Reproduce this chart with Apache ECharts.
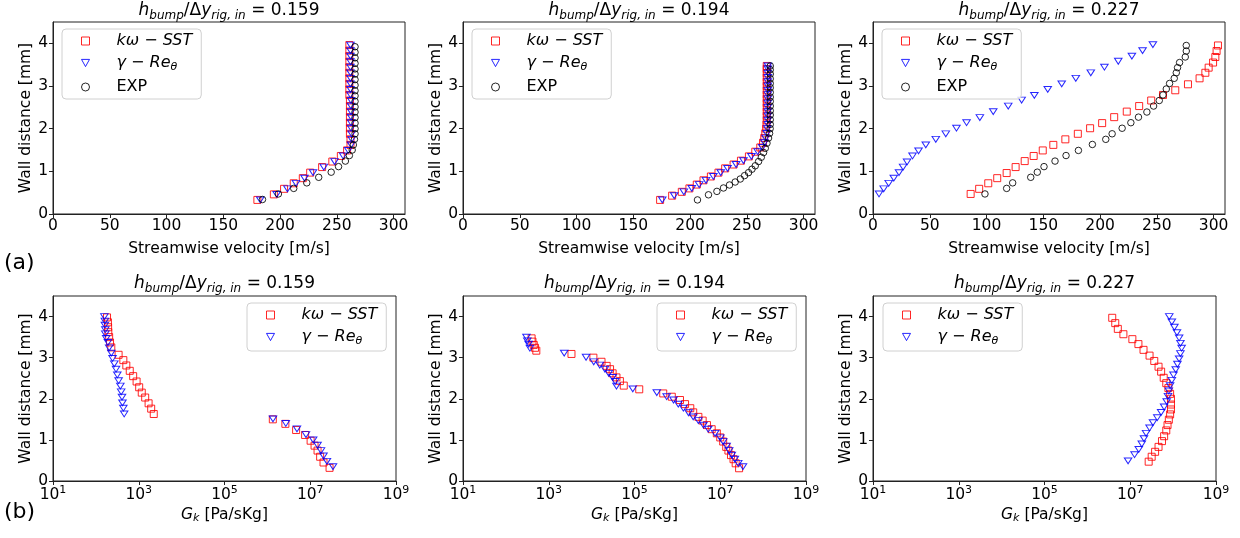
<!DOCTYPE html>
<html>
<head>
<meta charset="utf-8">
<script src="https://cdn.jsdelivr.net/npm/echarts@6/dist/echarts.min.js"></script>
<style>
  html, body { margin: 0; background: #fff; }
  #chart { width: 1240px; height: 538px; }
</style>
</head>
<body>
<div id="chart"></div>
<script>
// tick labels
const velTicks = [0, 50, 100, 150, 200, 250, 300];
const wallTicks = [0, 1, 2, 3, 4];
const gkTicks = [1e1, 1e3, 1e5, 1e7, 1e9];
const ratios = ['0.159', '0.194', '0.227'];

// (a) streamwise velocity [m/s] vs wall distance [mm]
const a1SstD = [0.33,0.46,0.59,0.72,0.84,0.97,1.10,1.23,1.36,1.49,1.62,1.75,1.88,2.01,2.14,2.27,2.40,2.53,2.66,2.79,2.92,3.05,3.18,3.31,3.44,3.57,3.70,3.83,3.96];
const a1SstU = [180,194.5,203.5,212,220,226.5,237,246,253.5,259,262,262,261.5,261.5,261.5,261.5,261.5,261.5,261.5,261,261,261,261,261,261,261,261,261,261];
const a1GreU = [182.5,197,206.5,214,221.5,229,238.5,248,255.5,260,262.5,263,263,262.5,262.5,262.5,262.5,262.5,262.5,262,262,262,262,262,262,262,262,262,262];
const a1ExpD = [0.34,0.47,0.60,0.73,0.86,0.98,1.11,1.24,1.37,1.50,1.62,1.75,1.88,2.00,2.13,2.26,2.39,2.51,2.64,2.77,2.89,3.02,3.15,3.28,3.40,3.53,3.66,3.79,3.92];
const a1ExpU = [184.5,198.5,212,223.5,234,245,251.5,257.5,261,263.5,264.5,265.5,266,266,266,266,266,266,266,266,266,266,266,266,266,266,266,266,266];

const a2SstD = [0.33,0.43,0.52,0.60,0.69,0.79,0.88,0.97,1.07,1.16,1.25,1.35,1.46,1.56,1.67,1.78,1.89,2.00,2.10,2.20,2.30,2.40,2.50,2.60,2.70,2.80,2.90,3.00,3.10,3.20,3.30,3.40,3.47];
const a2SstU = [173.6,184.2,192.7,199.4,205.9,211.8,218.3,225,230.9,238.3,244.8,251.8,257.4,261.8,264.2,265.3,266.2,267,267.3,267.5,267.5,267.5,267.5,267.5,267.5,267.5,267.5,267.5,267.5,267.5,267.5,267.5,267.5];
const a2GreU = [175.5,186,194.5,201.5,208,214,220.5,227,233,240.5,247,254,259.5,263.5,265.5,266.5,267.5,268,268.5,268.5,268.5,268.5,268.5,268.5,268.5,268.5,268.5,268.5,268.5,268.5,268.5,268.5,268.5];
const a2ExpD = [0.33,0.45,0.53,0.61,0.68,0.75,0.82,0.90,0.97,1.05,1.13,1.23,1.33,1.44,1.54,1.66,1.78,1.89,2.00,2.10,2.21,2.32,2.42,2.53,2.64,2.74,2.85,2.96,3.06,3.17,3.28,3.38,3.47];
const a2ExpU = [206.5,216.2,223.6,229.4,234.7,239.7,244.2,248,251.5,254.5,257.4,260.3,262.7,264.7,266.2,267.7,269.1,270,270.5,270.6,270.6,270.6,270.6,270.6,270.6,270.6,270.6,270.6,270.6,270.6,270.6,270.6,270.6];

const a3SstD = [0.47,0.59,0.72,0.84,0.96,1.10,1.24,1.36,1.49,1.62,1.75,1.88,2.01,2.13,2.27,2.40,2.53,2.66,2.79,2.90,3.04,3.18,3.31,3.43,3.55,3.68,3.82,3.95];
const a3SstU = [86,93.5,101.5,109.4,117.7,125.6,133.6,141.5,149.5,158.8,169.4,180.4,191.2,201.8,212.4,223.5,234.4,245,255.4,266.2,277.4,287.6,292.7,295.6,299.5,301.5,302.6,303.8];
const a3GreD = [0.47,0.59,0.72,0.84,0.97,1.10,1.22,1.36,1.48,1.62,1.75,1.88,2.01,2.14,2.26,2.40,2.53,2.67,2.78,2.92,3.05,3.18,3.31,3.44,3.58,3.70,3.83,3.97];
const a3GreU = [5.3,9.4,13.8,18.3,22.9,26.5,30,34.8,40.1,46.5,55.3,64.1,73.5,82.4,94.1,105.9,119.1,130.9,142.1,153.9,166.2,178.6,191.8,203.8,216,228,237.4,246.5];
const a3ExpD = [0.47,0.60,0.73,0.86,0.98,1.11,1.24,1.37,1.49,1.63,1.75,1.88,2.01,2.14,2.27,2.39,2.53,2.66,2.79,2.93,3.06,3.18,3.31,3.43,3.55,3.68,3.82,3.95];
const a3ExpU = [98.6,117.7,123,138.9,144.7,150.6,160.3,170,180.9,193.2,205,210.6,219.4,227.1,233.8,241.2,247.1,252.1,255.4,258.3,261.2,265.3,267.1,268.2,270,275,275.9,275.9];

// (b) Gk [Pa/sKg] vs wall distance [mm]
const b1SstD = [3.98,3.86,3.74,3.62,3.50,3.37,3.25,3.07,2.94,2.81,2.68,2.55,2.42,2.28,2.15,2.03,1.89,1.76,1.63,1.50,1.39,1.24,1.12,0.98,0.86,0.74,0.59,0.45,0.32];
const b1SstG = [182,191,193,195,204,214,229,339,437,513,617,741,891,1023,1175,1413,1698,1950,2239,1.34e6,2.63e6,4.68e6,7.59e6,1.02e7,1.26e7,1.48e7,1.70e7,2.04e7,2.82e7];
const b1GreD = [4.00,3.89,3.79,3.68,3.58,3.47,3.37,3.24,3.11,2.98,2.85,2.72,2.58,2.44,2.31,2.17,2.04,1.90,1.77,1.63,1.51,1.40,1.27,1.13,1.00,0.87,0.74,0.61,0.48,0.35];
const b1GreG = [158,162,162,166,166,174,191,204,229,245,269,295,316,339,372,389,407,417,437,457,1.35e6,2.69e6,4.90e6,7.94e6,1.17e7,1.48e7,1.78e7,2.04e7,2.45e7,3.39e7];

const b2SstD = [3.47,3.39,3.31,3.24,3.17,3.09,3.00,2.90,2.80,2.72,2.62,2.52,2.43,2.32,2.23,2.13,2.05,1.97,1.87,1.77,1.67,1.56,1.47,1.36,1.26,1.16,1.06,0.96,0.83,0.74,0.63,0.53,0.43,0.31];
const b2SstG = [398,417,447,479,513,3388,1.10e4,1.70e4,2.24e4,2.69e4,3.09e4,3.80e4,4.57e4,5.62e4,1.29e5,4.68e5,7.41e5,1.15e6,1.51e6,2.0e6,2.34e6,3.09e6,3.89e6,4.90e6,6.31e6,8.32e6,1.0e7,1.17e7,1.38e7,1.55e7,1.78e7,2.04e7,2.29e7,2.75e7];
const b2GreD = [3.50,3.41,3.33,3.23,3.11,3.01,2.90,2.82,2.72,2.62,2.52,2.42,2.31,2.24,2.15,2.05,1.97,1.87,1.77,1.66,1.56,1.47,1.36,1.26,1.16,1.05,0.96,0.85,0.74,0.63,0.53,0.43,0.35];
const b2GreG = [302,316,339,363,2291,7413,1.12e4,1.55e4,2.04e4,2.51e4,3.09e4,3.55e4,3.80e4,9.12e4,3.31e5,5.62e5,8.13e5,1.05e6,1.38e6,1.82e6,2.34e6,3.09e6,4.07e6,5.25e6,7.59e6,1.0e7,1.17e7,1.41e7,1.62e7,1.86e7,2.19e7,2.63e7,3.39e7];

const b3SstD = [3.97,3.84,3.70,3.57,3.45,3.33,3.19,3.05,2.92,2.78,2.66,2.51,2.38,2.26,2.12,2.00,1.86,1.74,1.62,1.49,1.36,1.23,1.09,0.97,0.83,0.71,0.59,0.47];
const b3SstG = [3.80e6,4.47e6,5.13e6,6.92e6,1.12e7,1.55e7,2.04e7,2.82e7,3.63e7,4.57e7,5.25e7,6.03e7,6.92e7,7.76e7,8.51e7,8.91e7,8.91e7,8.91e7,8.51e7,7.94e7,7.41e7,6.92e7,6.17e7,5.50e7,4.57e7,3.80e7,3.16e7,2.69e7];
const b3GreD = [4.00,3.87,3.74,3.61,3.48,3.35,3.23,3.10,2.97,2.84,2.71,2.58,2.45,2.32,2.19,2.06,1.93,1.80,1.67,1.54,1.42,1.29,1.16,1.03,0.90,0.77,0.64,0.49];
const b3GreG = [8.13e7,9.33e7,1.07e8,1.23e8,1.38e8,1.48e8,1.58e8,1.48e8,1.38e8,1.26e8,1.15e8,1.02e8,9.33e7,8.51e7,7.94e7,7.59e7,7.08e7,6.17e7,5.25e7,4.27e7,3.39e7,2.82e7,2.34e7,2.09e7,1.86e7,1.58e7,1.26e7,8.9e6];

const FONT = 'DejaVu Sans';
const SST = 'kω − SST', GRE = 'γ − Reθ', EXP = 'EXP';
const FRAME = '#222';
const zip = (xs, ys) => xs.map((x, i) => [x, ys[i]]);

const chart = echarts.init(document.getElementById('chart'));

const grids = [
  { left: 53, top: 22, width: 352, height: 192 },
  { left: 463, top: 22, width: 352, height: 192 },
  { left: 873, top: 22, width: 352, height: 192 },
  { left: 53, top: 296, width: 343, height: 185 },
  { left: 463, top: 296, width: 343, height: 185 },
  { left: 873, top: 296, width: 343, height: 185 }
];

const titleRich = {
  n: { fontFamily: FONT, fontSize: 17, fontWeight: 'normal', color: '#000', lineHeight: 22 },
  i: { fontFamily: FONT, fontSize: 17, fontWeight: 'normal', color: '#000', fontStyle: 'italic', lineHeight: 22 },
  s: { fontFamily: FONT, fontSize: 12, fontWeight: 'normal', color: '#000', fontStyle: 'italic', lineHeight: 12, verticalAlign: 'bottom' }
};

const titles = grids.map((g, i) => ({
  text: '{i|h}{s|bump}{n|/Δ}{i|y}{s|rig, in}{n| = ' + ratios[i % 3] + '}',
  left: g.left + g.width / 2,
  top: i < 3 ? 0 : 273,
  textAlign: 'center',
  padding: 0,
  textStyle: { fontWeight: 'normal', rich: titleRich }
}));

const legendRich = {
  ia: { fontFamily: FONT, fontSize: 16, fontStyle: 'italic', color: '#000', lineHeight: 20, padding: [0, 0, 0, 22] },
  na: { fontFamily: FONT, fontSize: 16, color: '#000', lineHeight: 20, padding: [0, 0, 0, 22] },
  sb: { fontFamily: FONT, fontSize: 11, fontStyle: 'italic', color: '#000', lineHeight: 10, verticalAlign: 'bottom' }
};
const legendText = {};
legendText[SST] = '{ia|kω − SST}';
legendText[GRE] = '{ia|γ − Re}{sb|θ}';
legendText[EXP] = '{na|EXP}';

const legendPos = [
  { left: 62, top: 29 }, { left: 472, top: 29 }, { left: 882, top: 29 },
  { left: 247, top: 303 }, { left: 657, top: 303 }, { left: 883, top: 303 }
];
const legends = legendPos.map((p, i) => ({
  left: p.left, top: p.top,
  orient: 'vertical',
  data: i < 3 ? [SST, GRE, EXP] : [SST, GRE],
  itemWidth: 8, itemHeight: 8, itemGap: 6,
  padding: [4, 9, 4, 19],
  backgroundColor: 'rgba(255,255,255,0.8)',
  borderColor: '#d0d0d0', borderWidth: 1, borderRadius: 4,
  selectedMode: false,
  itemStyle: { borderWidth: 1 },
  formatter: name => legendText[name],
  textStyle: { rich: legendRich }
}));

const axisFont = { fontFamily: FONT, fontSize: 15.5, color: '#000' };

const xAxes = grids.map((g, i) => {
  const common = {
    gridIndex: i,
    nameLocation: 'middle',
    axisLine: { show: true, onZero: false, lineStyle: { color: FRAME, width: 1 } },
    splitLine: { show: false }
  };
  if (i < 3) {
    return Object.assign(common, {
      type: 'value', min: 0, max: 310,
      axisTick: { show: true, length: 4, lineStyle: { color: FRAME }, customValues: velTicks },
      axisLabel: Object.assign({ margin: 4, customValues: velTicks }, axisFont),
      name: 'Streamwise velocity [m/s]', nameGap: 27,
      nameTextStyle: axisFont
    });
  }
  return Object.assign(common, {
    type: 'log', logBase: 10, min: 1e1, max: 1e9,
    axisTick: { show: true, length: 4, lineStyle: { color: FRAME }, customValues: gkTicks },
    axisLabel: {
      margin: 4, customValues: gkTicks,
      formatter: v => '{b|10}{p|' + Math.round(Math.log10(v)) + '}',
      rich: {
        b: { fontFamily: FONT, fontSize: 15.5, color: '#000', lineHeight: 19 },
        p: { fontFamily: FONT, fontSize: 11, color: '#000', lineHeight: 11, verticalAlign: 'top' }
      }
    },
    name: '{i|G}{s|k}{n| [Pa/sKg]}', nameGap: 24,
    nameTextStyle: {
      rich: {
        n: { fontFamily: FONT, fontSize: 15.5, color: '#000', lineHeight: 19 },
        i: { fontFamily: FONT, fontSize: 15.5, fontStyle: 'italic', color: '#000', lineHeight: 19 },
        s: { fontFamily: FONT, fontSize: 11, fontStyle: 'italic', color: '#000', lineHeight: 11, verticalAlign: 'bottom' }
      }
    }
  });
});

const yAxes = grids.map((g, i) => ({
  type: 'value', gridIndex: i, min: 0, max: 4.5,
  axisLine: { show: true, onZero: false, lineStyle: { color: FRAME, width: 1 } },
  axisTick: { show: true, length: 4, lineStyle: { color: FRAME }, customValues: wallTicks },
  axisLabel: Object.assign({ margin: 5, customValues: wallTicks }, axisFont),
  splitLine: { show: false },
  name: 'Wall distance [mm]', nameLocation: 'middle', nameGap: 19,
  nameTextStyle: axisFont
}));

const TRI_DOWN = 'path://M0,0L10,0L5,9Z';
const markStyle = {};
markStyle[SST] = { symbol: 'rect', symbolSize: 7, color: '#ff0000' };
markStyle[GRE] = { symbol: TRI_DOWN, symbolSize: [7.5, 6.5], color: '#0000ff' };
markStyle[EXP] = { symbol: 'circle', symbolSize: 6.5, color: '#000000' };

function scatter(name, idx, data) {
  const m = markStyle[name];
  return {
    name: name, type: 'scatter',
    xAxisIndex: idx, yAxisIndex: idx,
    symbol: m.symbol, symbolSize: m.symbolSize, symbolKeepAspect: true,
    itemStyle: { color: 'rgba(0,0,0,0)', borderColor: m.color, borderWidth: 1, opacity: 0.85 },
    emphasis: { disabled: true },
    data: data
  };
}

const series = [
  scatter(SST, 0, zip(a1SstU, a1SstD)),
  scatter(GRE, 0, zip(a1GreU, a1SstD)),
  scatter(EXP, 0, zip(a1ExpU, a1ExpD)),
  scatter(SST, 1, zip(a2SstU, a2SstD)),
  scatter(GRE, 1, zip(a2GreU, a2SstD)),
  scatter(EXP, 1, zip(a2ExpU, a2ExpD)),
  scatter(SST, 2, zip(a3SstU, a3SstD)),
  scatter(GRE, 2, zip(a3GreU, a3GreD)),
  scatter(EXP, 2, zip(a3ExpU, a3ExpD)),
  scatter(SST, 3, zip(b1SstG, b1SstD)),
  scatter(GRE, 3, zip(b1GreG, b1GreD)),
  scatter(SST, 4, zip(b2SstG, b2SstD)),
  scatter(GRE, 4, zip(b2GreG, b2GreD)),
  scatter(SST, 5, zip(b3SstG, b3SstD)),
  scatter(GRE, 5, zip(b3GreG, b3GreD))
];

chart.setOption({
  animation: false,
  backgroundColor: '#fff',
  title: titles,
  legend: legends,
  grid: grids.map(g => Object.assign({ show: true, borderColor: FRAME, borderWidth: 1, backgroundColor: 'transparent' }, g)),
  xAxis: xAxes,
  yAxis: yAxes,
  series: series,
  graphic: [
    { type: 'text', left: 4, top: 252, style: { text: '(a)', fontFamily: FONT, fontSize: 22, fill: '#000' } },
    { type: 'text', left: 4, top: 501, style: { text: '(b)', fontFamily: FONT, fontSize: 22, fill: '#000' } }
  ]
});
</script>
</body>
</html>
